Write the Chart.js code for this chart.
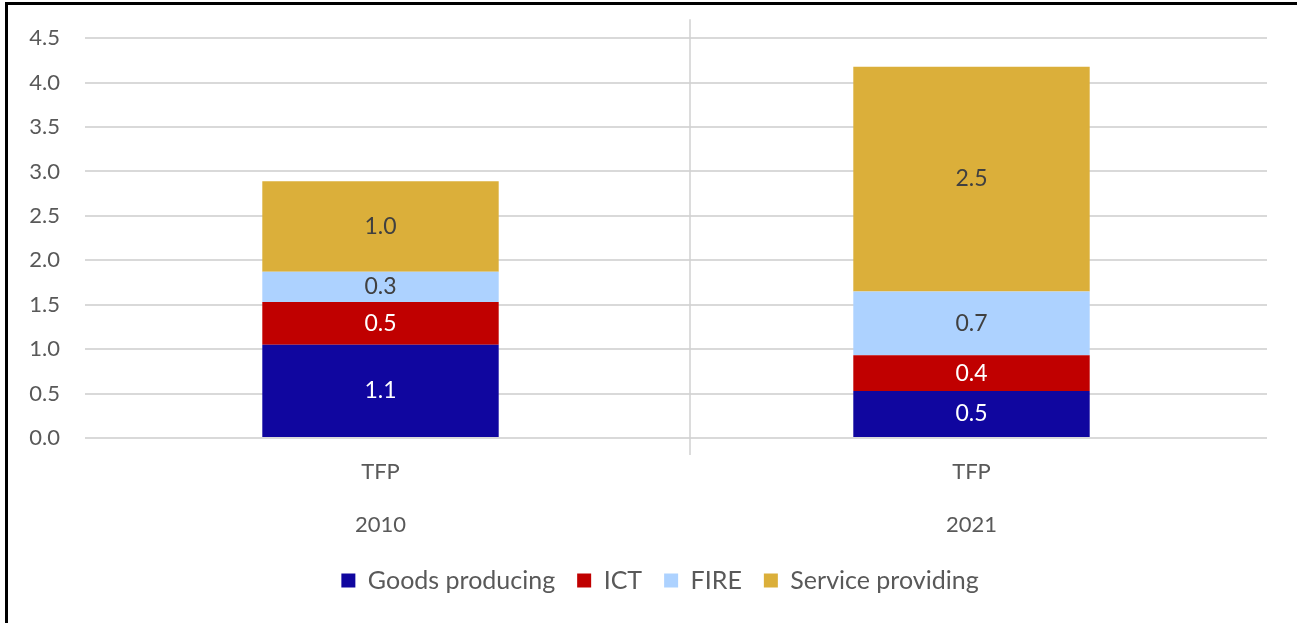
<!DOCTYPE html>
<html>
<head>
<meta charset="utf-8">
<script src="https://cdn.jsdelivr.net/npm/chart.js@4.4.1/dist/chart.umd.min.js"></script>
<style>
  html, body { margin: 0; padding: 0; background: #fff; }
  #wrap { position: relative; width: 1297px; height: 623px; overflow: hidden; }
  #c { position: absolute; left: 0; top: 0; }
  #frame { position: absolute; left: 5px; top: 2px; width: 1400px; height: 700px;
           border-left: 3px solid #000; border-top: 3px solid #000; pointer-events: none; }
</style>
</head>
<body>
<div id="wrap">
  <canvas id="c" width="1297" height="623"></canvas>
  <div id="frame"></div>
</div>
<script>
// ---- data ----
const categories = [["TFP", "2010"], ["TFP", "2021"]];
const seriesNames = ["Goods producing", "ICT", "FIRE", "Service providing"];
const goodsProducing = [1.05, 0.53];
const ict = [0.48, 0.40];
const fire = [0.34, 0.72];
const serviceProviding = [1.02, 2.53];
const yTicks = [0, 0.5, 1.0, 1.5, 2.0, 2.5, 3.0, 3.5, 4.0, 4.5];

const colors = ["#10069F", "#C00000", "#ADD2FF", "#DBAF3A"];
const labelColors = ["#FFFFFF", "#FFFFFF", "#404040", "#404040"];
const FONT = "Lato, 'Open Sans', sans-serif";

const values = [goodsProducing, ict, fire, serviceProviding];

const dividerPlugin = {
  id: 'divider',
  beforeDatasetsDraw(chart) {
    const x = chart.scales.x;
    const mid = (x.getPixelForValue(0) + x.getPixelForValue(1)) / 2 + 14;
    const ctx = chart.ctx;
    ctx.save();
    ctx.strokeStyle = '#d0d0d0';
    ctx.lineWidth = 1.5;
    ctx.beginPath();
    ctx.moveTo(mid, chart.chartArea.top - 19);
    ctx.lineTo(mid, chart.chartArea.bottom + 17);
    ctx.stroke();
    ctx.restore();
  }
};

const legendShiftPlugin = {
  id: 'legendShift',
  afterLayout(chart) {
    if (chart.legend) { chart.legend.left += 14; chart.legend.right += 14; }
  }
};

const valueLabelPlugin = {
  id: 'valueLabels',
  afterDatasetsDraw(chart) {
    const ctx = chart.ctx;
    ctx.save();
    ctx.font = "23px " + FONT;
    ctx.textAlign = 'center';
    ctx.textBaseline = 'middle';
    chart.data.datasets.forEach((ds, di) => {
      const meta = chart.getDatasetMeta(di);
      meta.data.forEach((el, i) => {
        ctx.fillStyle = labelColors[di];
        ctx.fillText(ds.data[i].toFixed(1), el.x, (el.y + el.base) / 2);
      });
    });
    ctx.restore();
  }
};

new Chart(document.getElementById('c'), {
  type: 'bar',
  data: {
    labels: categories,
    datasets: seriesNames.map((name, i) => ({
      label: name,
      data: values[i],
      backgroundColor: colors[i],
      borderWidth: 0,
      barPercentage: 0.4,
      categoryPercentage: 1.0
    }))
  },
  options: {
    responsive: false,
    animation: false,
    devicePixelRatio: 1,
    layout: { padding: { left: 25, right: 30, top: 34, bottom: 20 } },
    plugins: {
      legend: {
        position: 'bottom',
        labels: {
          boxWidth: 14, boxHeight: 14, padding: 22,
          color: '#595959',
          font: { family: FONT, size: 25 }
        }
      },
      tooltip: { enabled: false }
    },
    scales: {
      x: {
        stacked: true,
        grid: { display: false, drawTicks: false },
        border: { display: false },
        ticks: {
          color: '#595959', padding: 8,
          font: { family: FONT, size: 22, lineHeight: 2.4 },
          maxRotation: 0
        },
        afterFit(scale) { scale.height = 108; }
      },
      y: {
        stacked: true,
        min: 0, max: 4.5,
        afterBuildTicks(scale) { scale.ticks = yTicks.map(v => ({ value: v })); },
        grid: { color: '#d9d9d9', lineWidth: 2, drawTicks: false },
        border: { display: false },
        ticks: {
          color: '#595959', padding: 25,
          font: { family: FONT, size: 22 },
          callback: v => Number(v).toFixed(1)
        },
        afterFit(scale) { scale.width = 60; }
      }
    }
  },
  plugins: [dividerPlugin, legendShiftPlugin, valueLabelPlugin]
});
</script>
</body>
</html>
